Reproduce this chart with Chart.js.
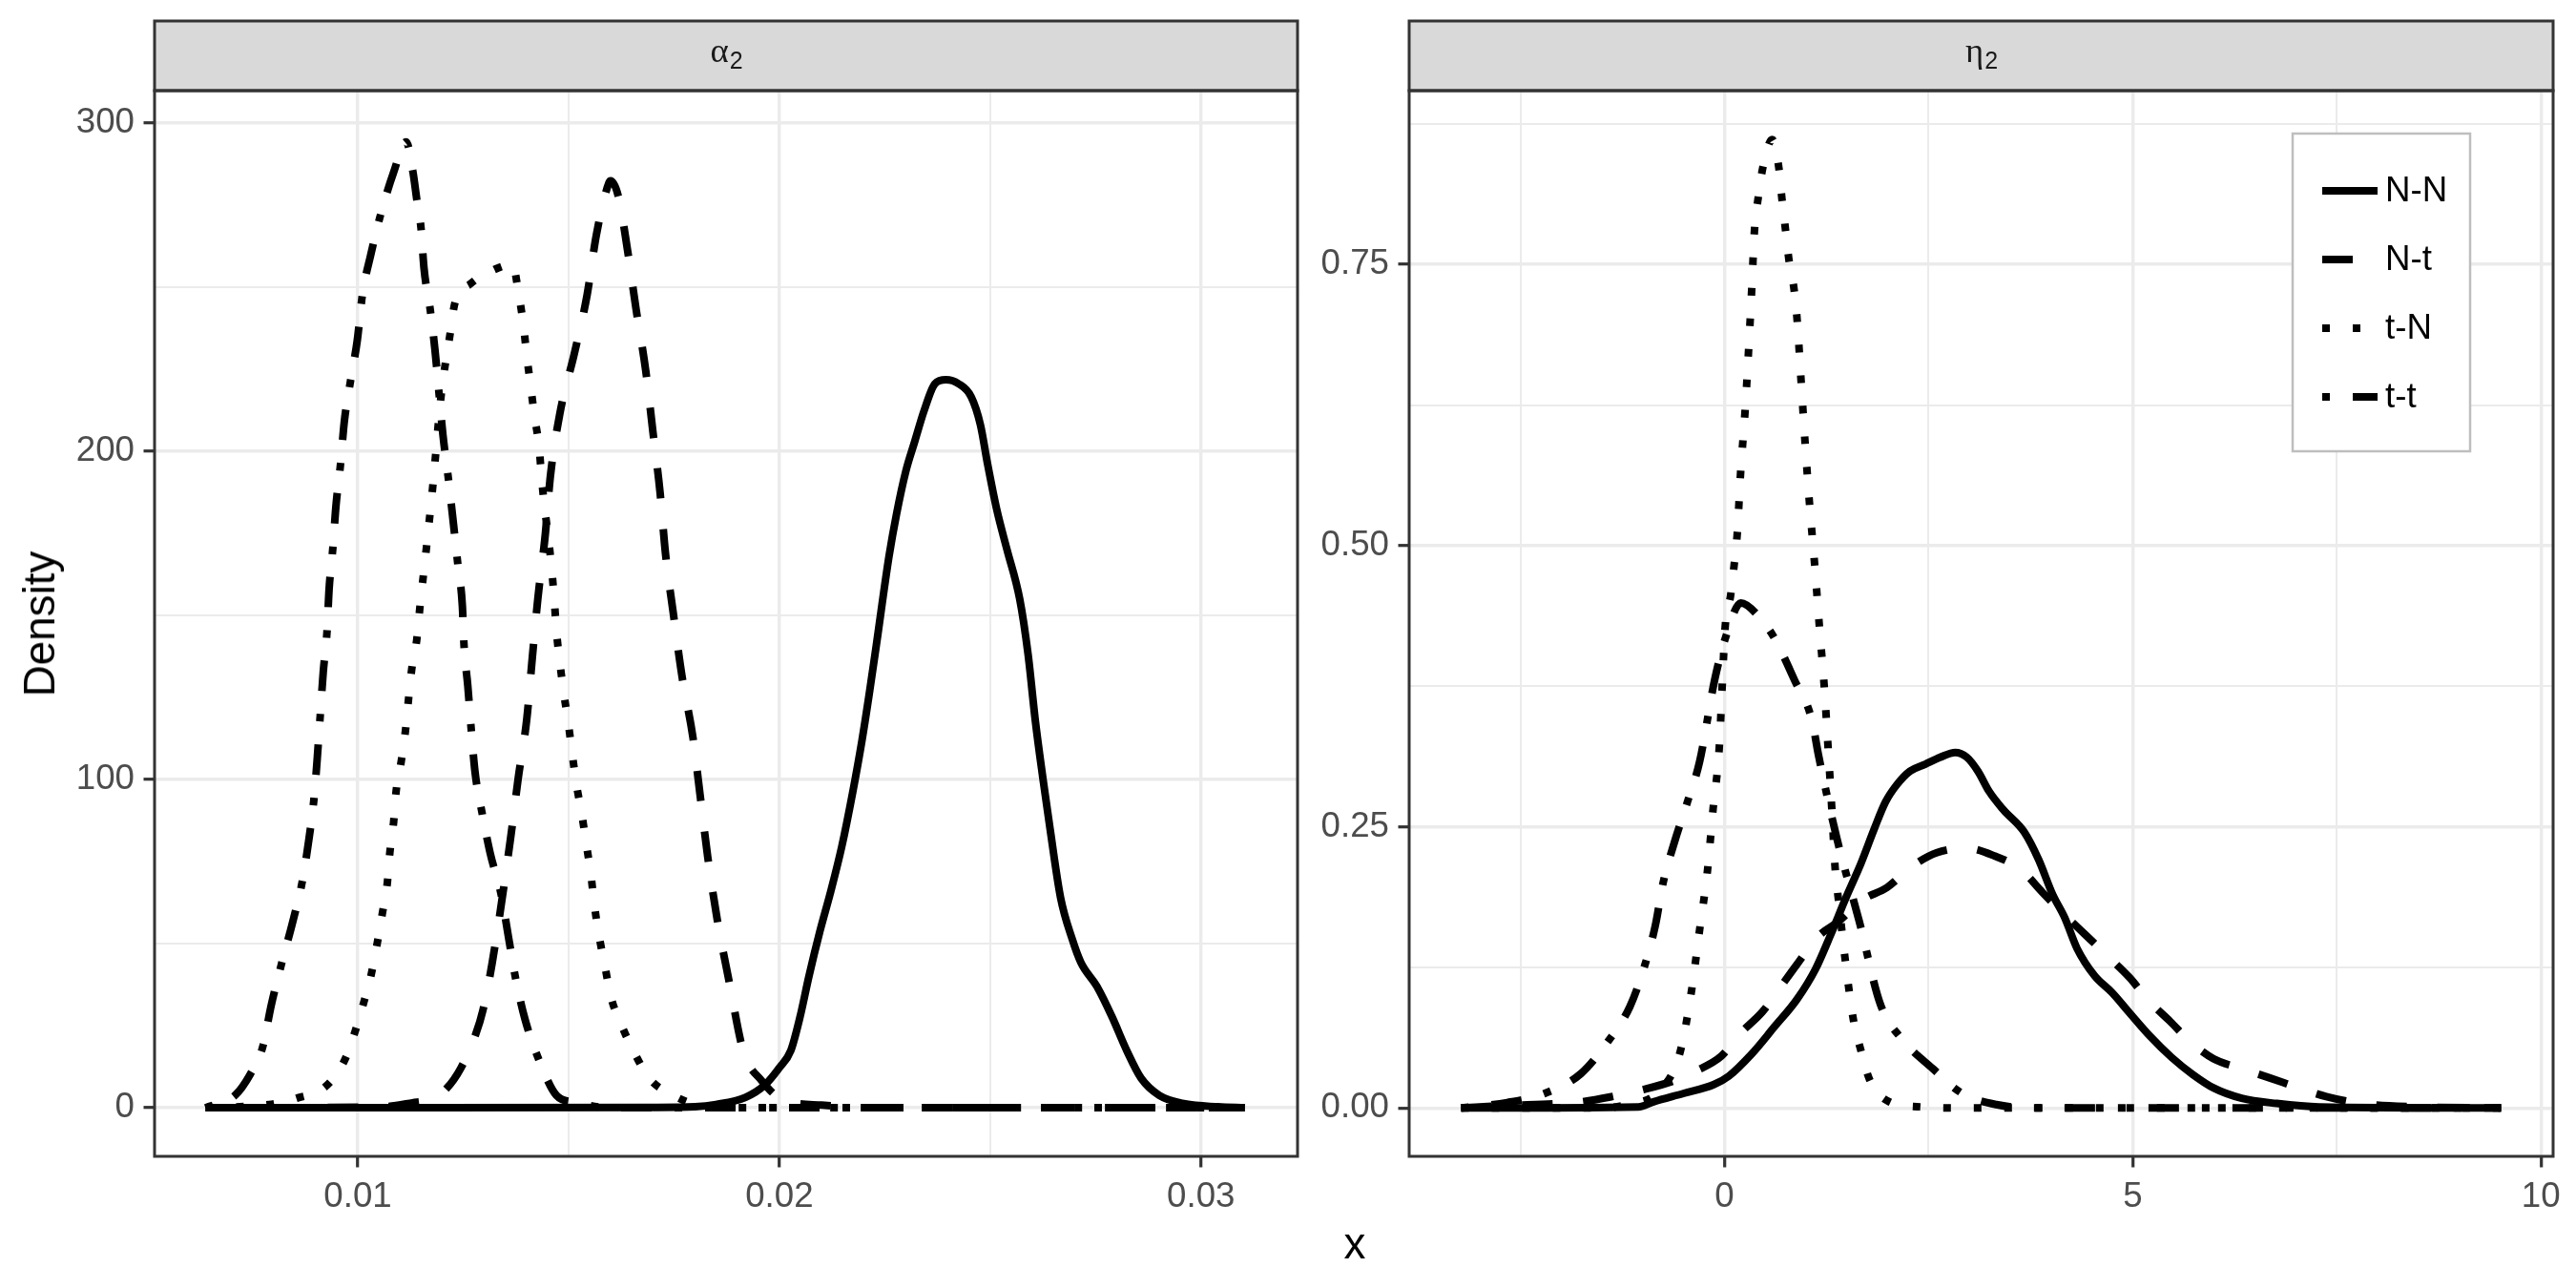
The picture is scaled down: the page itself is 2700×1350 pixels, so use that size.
<!DOCTYPE html>
<html>
<head>
<meta charset="utf-8">
<title>Posterior densities</title>
<script src="https://cdn.jsdelivr.net/npm/chart.js@4.4.1/dist/chart.umd.min.js"></script>
<style>
  html, body { margin: 0; padding: 0; background: #fff; }
  #page { position: relative; width: 2700px; height: 1350px; overflow: hidden; font-family: 'Liberation Sans', Arial, sans-serif; }
  canvas { position: absolute; top: 0; }
  #alphaChart { left: 0; }
  #etaChart { left: 1380px; }
  .axis-title { position: absolute; font-size: 45.8px; line-height: 46px; color: #000; white-space: nowrap; }
  #yTitle { left: 42px; top: 653.5px; transform: translate(-50%, -50%) rotate(-90deg); }
  #xTitle { left: 1420px; top: 1281px; transform: translateX(-50%); }
</style>
</head>
<body>
<div id="page">
  <canvas id="alphaChart" width="1380" height="1350"></canvas>
  <canvas id="etaChart" width="1320" height="1350"></canvas>
  <div class="axis-title" id="yTitle">Density</div>
  <div class="axis-title" id="xTitle">x</div>
</div>
<script>
// --- Series names (legend order) ---
const seriesLabels = ['N-N', 'N-t', 't-N', 't-t'];

// --- alpha_2 panel ---
const alphaX_NN = [0.00639, 0.0120, 0.0170, 0.0180, 0.0185, 0.0192, 0.01966, 0.0200, 0.02027, 0.02049, 0.0207, 0.02096, 0.02122, 0.02148, 0.02174, 0.02196, 0.02213, 0.0223, 0.0226, 0.02278, 0.0230, 0.02321, 0.02343, 0.02369, 0.02395, 0.02425, 0.02455, 0.02477, 0.02494, 0.02516, 0.0254, 0.0257, 0.0259, 0.02607, 0.02625, 0.02642, 0.02667, 0.02694, 0.02715, 0.02753, 0.02789, 0.02824, 0.02858, 0.02901, 0.02962, 0.0304, 0.03104];
const alphaY_NN = [0, 0, 0.1, 0.3, 1.0, 3.2, 7, 12.2, 17.4, 27.7, 40, 53.7, 66, 79.6, 96.2, 112, 126, 141, 168, 181, 194, 203, 212.3, 220.6, 221.8, 220.6, 216.6, 208, 196, 182, 170, 155, 138, 118, 100.4, 85, 64, 51.6, 44.3, 37, 27.7, 17.4, 9, 3.8, 1.2, 0.3, 0];

const alphaX_NT = [0.00639, 0.0105, 0.0113, 0.0117, 0.0121, 0.01245, 0.0128, 0.01297, 0.01319, 0.01362, 0.0138, 0.01401, 0.01414, 0.01427, 0.01445, 0.01457, 0.01479, 0.01514, 0.01544, 0.01566, 0.01596, 0.0160, 0.01618, 0.01639, 0.0166, 0.01683, 0.0170, 0.01717, 0.0173, 0.01748, 0.01769, 0.01795, 0.01812, 0.0183, 0.01852, 0.0188, 0.01915, 0.01957, 0.0201, 0.0210, 0.0222, 0.03104];
const alphaY_NT = [0, 0.2, 1.5, 2.5, 5.8, 12.2, 22.5, 29.8, 44.3, 81.7, 99.9, 118.6, 137.2, 155, 175, 192.6, 211.3, 230, 247.7, 266, 281.9, 282.4, 277.7, 262, 243.4, 224.6, 206, 187.5, 168.7, 151, 131.5, 112.8, 95.2, 76.5, 57.8, 39, 17, 8.4, 2.3, 0.8, 0, 0];

const alphaX_TN = [0.00639, 0.0079, 0.00855, 0.00923, 0.00967, 0.00993, 0.01014, 0.01032, 0.01046, 0.01058, 0.0107, 0.01076, 0.01085, 0.01091, 0.01103, 0.01113, 0.0112, 0.01128, 0.0114, 0.01147, 0.01163, 0.01178, 0.01198, 0.01219, 0.0123, 0.01267, 0.01324, 0.01367, 0.01382, 0.01393, 0.01401, 0.0141, 0.01419, 0.0143, 0.01436, 0.01443, 0.01452, 0.0146, 0.01466, 0.01471, 0.01479, 0.01488, 0.01499, 0.01508, 0.01518, 0.01531, 0.01542, 0.01553, 0.01561, 0.01572, 0.01586, 0.016, 0.01626, 0.01656, 0.01691, 0.01748, 0.0180, 0.0186, 0.03104];
const alphaY_TN = [0, 1, 2.9, 6.4, 14, 23, 32, 40.7, 50, 59, 68.4, 77.7, 87, 96.5, 105.5, 114.8, 124, 133.7, 142.7, 152, 170.8, 189.5, 217.4, 235.8, 245, 251, 255.4, 257, 247.7, 238.4, 229, 220, 210.8, 201.4, 192, 183, 173.8, 164, 155, 145.6, 136, 126.9, 117.5, 108.5, 99, 89.7, 80.4, 71, 62, 52.6, 43.3, 34, 25, 16.8, 9, 3.8, 1, 0, 0];

const alphaX_TT = [0.00639, 0.00709, 0.00745, 0.00774, 0.00795, 0.00819, 0.00845, 0.00868, 0.00884, 0.00896, 0.00904, 0.00911, 0.00918, 0.00927, 0.00932, 0.00941, 0.00948, 0.00959, 0.00968, 0.00983, 0.00999, 0.01011, 0.01031, 0.01055, 0.01085, 0.01115, 0.01131, 0.0114, 0.0115, 0.01157, 0.01172, 0.01183, 0.01202, 0.01215, 0.01226, 0.01237, 0.01248, 0.01252, 0.01261, 0.01269, 0.01278, 0.01295, 0.01314, 0.0134, 0.01358, 0.01375, 0.01397, 0.01431, 0.01471, 0.01514, 0.0160, 0.03104];
const alphaY_TT = [0, 3.8, 10.2, 18.3, 31.4, 43.8, 56.3, 68.7, 81.7, 94, 106.7, 119.6, 132.6, 145, 158, 170.7, 183, 196, 209, 221.6, 234, 247.7, 260, 272.5, 285, 294.3, 285, 276.7, 268, 255.9, 243, 231, 205, 191.6, 179, 166, 153, 140.9, 128.5, 115.4, 102.4, 89.7, 77.6, 65, 51.6, 39, 26.8, 14.2, 3.8, 1.7, 0, 0];

const alphaXTicks = [0.01, 0.02, 0.03];
const alphaXTickLabels = ['0.01', '0.02', '0.03'];
const alphaXMinor = [0.015, 0.025];
const alphaYTicks = [0, 100, 200, 300];
const alphaYTickLabels = ['0', '100', '200', '300'];
const alphaYMinor = [50, 150, 250];

// --- eta_2 panel ---
const etaX_NN = [-3.226, -1.055, -0.87, -0.5, -0.131, 0.053, 0.332, 0.609, 0.886, 1.116, 1.30, 1.487, 1.672, 1.833, 1.971, 2.109, 2.272, 2.457, 2.641, 2.826, 2.965, 3.103, 3.242, 3.417, 3.674, 3.846, 4.018, 4.168, 4.317, 4.533, 4.748, 4.963, 5.22, 5.477, 5.735, 5.992, 6.335, 6.764, 7.28, 9.512];
const etaY_NN = [0, 0.001, 0.0055, 0.013, 0.0208, 0.0284, 0.048, 0.072, 0.0964, 0.1237, 0.154, 0.187, 0.2177, 0.248, 0.272, 0.2873, 0.2995, 0.3056, 0.3118, 0.316, 0.312, 0.2995, 0.2813, 0.265, 0.245, 0.221, 0.19, 0.169, 0.142, 0.1175, 0.1025, 0.0844, 0.0632, 0.0449, 0.0298, 0.0177, 0.0086, 0.004, 0.001, 0];

const etaX_NT = [-3.226, -2.7, -2.0, -1.75, -1.4, -1.01, -0.64, -0.36, -0.04, 0.19, 0.47, 0.68, 0.88, 1.14, 1.40, 1.69, 1.99, 2.3, 2.6, 2.96, 3.31, 3.63, 3.89, 4.16, 4.42, 4.70, 4.96, 5.2, 5.46, 5.71, 5.99, 6.36, 6.68, 7.04, 7.37, 7.8, 8.5, 9.512];
const etaY_NT = [0, 0.002, 0.004, 0.0055, 0.0098, 0.0161, 0.0237, 0.0326, 0.046, 0.066, 0.086, 0.107, 0.127, 0.152, 0.166, 0.185, 0.196, 0.215, 0.227, 0.231, 0.224, 0.212, 0.192, 0.172, 0.154, 0.1345, 0.116, 0.095, 0.0768, 0.0586, 0.0437, 0.0344, 0.0267, 0.0177, 0.0101, 0.004, 0.001, 0];

const etaX_TN = [-3.226, -1.5, -1.2, -0.8, -0.547, -0.408, -0.306, -0.209, -0.14, -0.065, -0.029, 0.008, 0.075, 0.118, 0.155, 0.197, 0.251, 0.294, 0.333, 0.368, 0.412, 0.466, 0.584, 0.665, 0.702, 0.745, 0.789, 0.853, 0.890, 0.938, 0.987, 1.040, 1.104, 1.162, 1.221, 1.268, 1.314, 1.356, 1.394, 1.478, 1.578, 1.671, 1.777, 2.018, 2.39, 2.8, 9.512];
const etaY_TN = [0, 0, 0.003, 0.015, 0.049, 0.1025, 0.158, 0.211, 0.266, 0.32, 0.375, 0.428, 0.456, 0.483, 0.510, 0.565, 0.619, 0.673, 0.728, 0.782, 0.809, 0.835, 0.861, 0.836, 0.809, 0.782, 0.754, 0.727, 0.700, 0.646, 0.591, 0.538, 0.483, 0.428, 0.375, 0.321, 0.266, 0.212, 0.186, 0.132, 0.0785, 0.051, 0.0252, 0.0055, 0.001, 0, 0];

const etaX_TT = [-3.226, -2.66, -2.2, -1.76, -1.433, -1.16, -0.985, -0.847, -0.753, -0.613, -0.455, -0.305, -0.12, 0.02, 0.2, 0.42, 0.609, 0.86, 1.07, 1.15, 1.375, 1.65, 1.91, 2.17, 2.55, 2.91, 3.33, 3.8, 9.512];
const etaY_TT = [0, 0.0048, 0.013, 0.0305, 0.0586, 0.09, 0.125, 0.1625, 0.2, 0.2365, 0.272, 0.308, 0.381, 0.42, 0.449, 0.437, 0.418, 0.38, 0.345, 0.314, 0.24, 0.166, 0.092, 0.0615, 0.035, 0.013, 0.003, 0, 0];

const etaXTicks = [0, 5, 10];
const etaXTickLabels = ['0', '5', '10'];
const etaXMinor = [-2.5, 2.5, 7.5];
const etaYTicks = [0, 0.25, 0.5, 0.75];
const etaYTickLabels = ['0.00', '0.25', '0.50', '0.75'];
const etaYMinor = [0.125, 0.375, 0.625, 0.875];

// --- Styles ---
const SANS = "'Liberation Sans', Arial, sans-serif";
const SERIF = "'Liberation Serif', 'DejaVu Serif', serif";
const LINE_W = 8;
const dashStyles = [[], [32, 32], [8, 24], [8, 24, 32, 24]];

function makeDatasets(xsList, ysList) {
    return xsList.map((xs, k) => ({
        label: seriesLabels[k],
        data: xs.map((x, i) => ({ x: x, y: ysList[k][i] })),
        borderColor: '#000000',
        borderWidth: LINE_W,
        borderDash: dashStyles[k],
        borderCapStyle: 'butt',
        borderJoinStyle: 'round',
        pointRadius: 0,
        fill: false,
        cubicInterpolationMode: 'monotone'
    }));
}

function axisOptions(limits, major, majorLabels, minor, fitFn) {
    const majorIndex = v => major.findIndex(m => Math.abs(m - v) < 1e-9);
    return {
        type: 'linear',
        min: limits[0],
        max: limits[1],
        afterBuildTicks: axis => {
            axis.ticks = major.concat(minor).sort((a, b) => a - b).map(v => ({ value: v }));
        },
        afterFit: fitFn,
        border: { display: false },
        grid: {
            color: '#EBEBEB',
            lineWidth: c => (c.tick && majorIndex(c.tick.value) >= 0) ? 3.4 : 2,
            drawTicks: true,
            tickLength: 11.5,
            tickWidth: 3.2,
            tickColor: c => (c.tick && majorIndex(c.tick.value) >= 0) ? '#333333' : 'rgba(0,0,0,0)'
        },
        ticks: {
            padding: 9.5,
            color: '#4D4D4D',
            autoSkip: false,
            maxRotation: 0,
            font: { family: SANS, size: 36.7 },
            callback: v => {
                const i = majorIndex(v);
                return i >= 0 ? majorLabels[i] : '';
            }
        }
    };
}

// --- Panel border + grey strip with the parameter name ---
const panelFrame = {
    id: 'panelFrame',
    afterDraw(chart, args, opts) {
        const { ctx, chartArea: a } = chart;
        const w = a.right - a.left;
        const stripH = 73;
        ctx.save();
        ctx.fillStyle = '#D9D9D9';
        ctx.fillRect(a.left, a.top - stripH, w, stripH);
        ctx.strokeStyle = '#333333';
        ctx.lineWidth = 3;
        ctx.strokeRect(a.left, a.top - stripH, w, stripH);
        ctx.strokeRect(a.left, a.top, w, a.bottom - a.top);

        // symbol with subscript
        ctx.fillStyle = '#1A1A1A';
        ctx.textBaseline = 'alphabetic';
        ctx.textAlign = 'left';
        ctx.font = '36.7px ' + SERIF;
        const wMain = ctx.measureText(opts.symbol).width;
        ctx.font = '25px ' + SANS;
        const wSub = ctx.measureText(opts.sub).width;
        const x0 = (a.left + a.right) / 2 - (wMain + wSub) / 2;
        const base = a.top - stripH + 43;
        ctx.font = '36.7px ' + SERIF;
        ctx.fillText(opts.symbol, x0, base);
        ctx.font = '25px ' + SANS;
        ctx.fillText(opts.sub, x0 + wMain + 1, base + 6.5);
        ctx.restore();
    }
};

// --- Legend box inside the eta panel ---
const insideLegend = {
    id: 'insideLegend',
    afterDraw(chart, args, opts) {
        if (!opts.show) return;
        const { ctx, chartArea: a } = chart;
        const left = a.right - 273;
        const top = a.top + 45;
        ctx.save();
        ctx.fillStyle = '#FFFFFF';
        ctx.fillRect(left, top, 186, 333);
        ctx.strokeStyle = '#BEBEBE';
        ctx.lineWidth = 2.5;
        ctx.strokeRect(left, top, 186, 333);

        chart.data.datasets.forEach((ds, i) => {
            const y = top + 60 + i * 72;
            ctx.strokeStyle = '#000000';
            ctx.lineWidth = LINE_W;
            ctx.lineCap = 'butt';
            ctx.setLineDash(ds.borderDash);
            ctx.beginPath();
            ctx.moveTo(left + 31, y);
            ctx.lineTo(left + 89, y);
            ctx.stroke();
            ctx.setLineDash([]);
            ctx.fillStyle = '#000000';
            ctx.font = '36.7px ' + SANS;
            ctx.textBaseline = 'middle';
            ctx.fillText(ds.label, left + 97, y + 1);
        });
        ctx.restore();
    }
};

function buildPanel(canvasId, cfg) {
    const ctx = document.getElementById(canvasId).getContext('2d');
    return new Chart(ctx, {
        type: 'line',
        data: { datasets: makeDatasets(cfg.xs, cfg.ys) },
        options: {
            responsive: false,
            animation: false,
            devicePixelRatio: 1,
            layout: { padding: { top: 95, right: cfg.padRight, bottom: 58, left: 0 } },
            scales: {
                x: axisOptions(cfg.xLim, cfg.xTicks, cfg.xLabels, cfg.xMinor, s => { s.height = 80; }),
                y: axisOptions(cfg.yLim, cfg.yTicks, cfg.yLabels, cfg.yMinor, s => { s.width = cfg.yWidth; })
            },
            plugins: {
                legend: { display: false },
                tooltip: { enabled: false },
                panelFrame: { symbol: cfg.symbol, sub: '2' },
                insideLegend: { show: cfg.legend }
            }
        },
        plugins: [panelFrame, insideLegend]
    });
}

document.addEventListener('DOMContentLoaded', () => {
    buildPanel('alphaChart', {
        xs: [alphaX_NN, alphaX_NT, alphaX_TN, alphaX_TT],
        ys: [alphaY_NN, alphaY_NT, alphaY_TN, alphaY_TT],
        xLim: [0.00518, 0.03229], yLim: [-14.8, 309.9],
        xTicks: alphaXTicks, xLabels: alphaXTickLabels, xMinor: alphaXMinor,
        yTicks: alphaYTicks, yLabels: alphaYTickLabels, yMinor: alphaYMinor,
        yWidth: 162, padRight: 20, symbol: 'α', legend: false
    });

    buildPanel('etaChart', {
        xs: [etaX_NN, etaX_NT, etaX_TN, etaX_TT],
        ys: [etaY_NN, etaY_NT, etaY_TN, etaY_TT],
        xLim: [-3.863, 10.149], yLim: [-0.043, 0.9045],
        xTicks: etaXTicks, xLabels: etaXTickLabels, xMinor: etaXMinor,
        yTicks: etaYTicks, yLabels: etaYTickLabels, yMinor: etaYMinor,
        yWidth: 97, padRight: 24, symbol: 'η', legend: true
    });
});
</script>
</body>
</html>
